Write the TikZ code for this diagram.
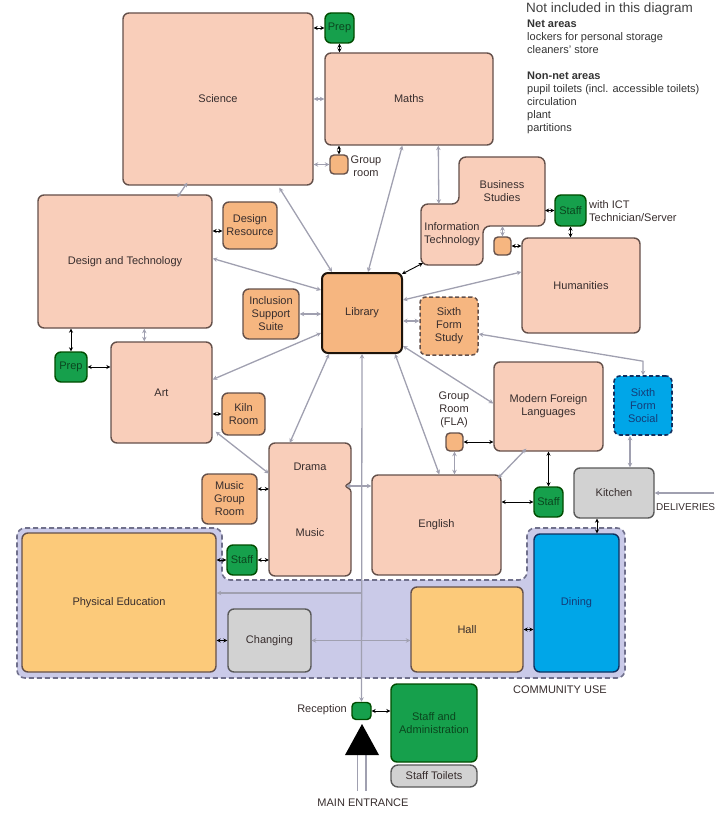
\documentclass[tikz,border=0pt]{standalone}
\usepackage{fontspec}
\setmainfont{Liberation Sans}
\usetikzlibrary{calc,arrows.meta}
\definecolor{salmon}{RGB}{249,206,186}
\definecolor{peach}{RGB}{246,182,128}
\definecolor{sgreen}{RGB}{22,160,76}
\definecolor{yell}{RGB}{252,202,122}
\definecolor{lgray}{RGB}{210,210,210}
\definecolor{sblue}{RGB}{0,166,232}
\definecolor{comm}{RGB}{202,202,232}
\definecolor{commedge}{RGB}{112,112,140}
\definecolor{edge}{RGB}{100,80,74}
\definecolor{txt}{RGB}{55,45,45}
\definecolor{lnk}{RGB}{160,160,176}
\definecolor{dgreen}{RGB}{10,70,30}
\definecolor{dblue}{RGB}{20,60,120}
\tikzset{
  wh/.style 2 args={minimum width=#1pt, minimum height=#2pt},
  room/.style={draw=edge, line width=1.4pt, rounded corners=6pt, inner sep=1pt,
    align=center, text=txt, font=\fontsize{11}{13}\selectfont},
  sal/.style={room, fill=salmon},
  pch/.style={room, fill=peach},
  pchdash/.style={pch, dash pattern=on 4pt off 2.5pt, line width=1.5pt},
  grn/.style={room, fill=sgreen, draw=black!70!green, text=dgreen},
  yel/.style={room, fill=yell},
  gry/.style={room, fill=lgray, draw=black!65},
  blu/.style={room, fill=sblue, draw=dblue!80!black, text=dblue},
  bludash/.style={blu, dash pattern=on 4pt off 2.5pt, line width=1.6pt},
  libstyle/.style={room, fill=peach, draw=black!85!brown, line width=2pt},
  hidden/.style={inner sep=0pt, align=center, text=txt, font=\fontsize{11}{13}\selectfont},
  lbl/.style={inner sep=0pt, align=center, text=txt, font=\fontsize{11}{13}\selectfont},
  leg/.style={inner sep=0pt, anchor=base west, text=black!80, font=\fontsize{11}{13}\selectfont},
  gline/.style={draw=lnk, line width=1.3pt, >={Stealth[length=4.5pt,width=4.5pt]}},
  glink/.style={gline, <->},
  blink/.style={draw=black, line width=0.9pt, <->, >={Stealth[length=4pt,width=4pt]}},
  salshape/.style={draw=edge, fill=salmon, line width=1.4pt}
}
\begin{document}
\begin{tikzpicture}[x=1pt,y=-1pt]
\useasboundingbox (0,0) rectangle (719,818);

% community use area
\draw[draw=commedge, fill=comm, line width=1.6pt, dash pattern=on 5pt off 3pt, rounded corners=8pt]
  (17,528) -- (222,528) -- (222,580) -- (527,580) -- (527,528) -- (625,528) -- (625,678) -- (17,678) -- cycle;
\node[lbl, anchor=base west] (cu) at (513,693) {COMMUNITY USE};

% composite shapes
\draw[salshape, draw=none] (269,443) [rounded corners=6pt] -- (351,443) [sharp corners] -- (351,480) -- (347,486) -- (351,492) [rounded corners=6pt] -- (351,576) -- (269,576) -- cycle;
\draw[draw=edge, line width=1.4pt] (269,443) [rounded corners=6pt] -- (351,443) [sharp corners] -- (351,480) .. controls (351,484) and (346,484) .. (346,486) .. controls (346,488) and (351,488) .. (351,492) [rounded corners=6pt] -- (351,576) -- (269,576) -- cycle;
\draw[salshape, rounded corners=7pt] (421,204) -- (459,204) -- (459,157) -- (545,157) -- (545,226) -- (483,226) -- (483,265) -- (421,265) -- cycle;

% rooms
\node[sal, wh={190}{172}] (sci) at (218,99) {Science};
\node[grn, wh={29}{30}] (prepT) at (339.5,28) {Prep};
\node[sal, wh={168}{92}] (maths) at (409,99) {Maths};
\node[pch, wh={18}{19}, inner sep=0pt, rounded corners=4pt] (grp) at (339,164.5) {};
\node[lbl] (grpL) at (366,166) {Group\\room};
\node[sal, wh={174}{133}] (dt) at (125,261.5) {Design and Technology};
\node[pch, wh={54}{47}] (dres) at (250,225.5) {Design\\Resource};
\node[pch, wh={56}{50}] (iss) at (271,314) {Inclusion\\Support\\Suite};
\node[libstyle, wh={80}{80}] (lib) at (362,313) {Library};
\node[grn, wh={32}{30}] (prepL) at (71,367) {Prep};
\node[sal, wh={101}{101}] (art) at (161.5,392.5) {Art};
\node[pch, wh={43}{42}] (kiln) at (243.5,414) {Kiln\\Room};
\node[hidden, wh={82}{133}] (dm) at (310,509.5) {};
\node[lbl] (drama) at (310,467) {Drama};
\node[lbl] (music) at (310,533) {Music};
\node[pch, wh={55}{50}] (mgr) at (229.5,499) {Music\\Group\\Room};
\node[grn, wh={30}{30}] (staffL) at (242,560) {Staff};
\node[yel, wh={194}{139}] (pe) at (119,602.5) {Physical Education};
\node[gry, wh={83}{63}] (chg) at (269.5,640.5) {Changing};
\node[yel, wh={112}{85}] (hall) at (467,629.5) {Hall};
\node[blu, wh={85}{138}] (din) at (576.5,603) {Dining};
\node[gry, wh={80}{50}] (kit) at (614,493) {Kitchen};
\node[lbl, anchor=base west, font=\fontsize{10}{12}\selectfont] (deliv) at (656,510) {DELIVERIES};
\coordinate (delivS) at (714,493);
\node[grn, wh={29}{30}] (staffR) at (548.5,502) {Staff};
\node[sal, wh={129}{100}] (eng) at (436.5,525) {English};
\node[pch, wh={17}{18}, inner sep=0pt, rounded corners=4pt] (gfla) at (454.5,442) {};
\node[lbl] (gflaL) at (454,410) {Group\\Room\\(FLA)};
\node[sal, wh={109}{89}] (mfl) at (548.5,406.5) {Modern Foreign\\Languages};
\node[bludash, wh={58}{59}] (sfsoc) at (643,405.5) {Sixth\\Form\\Social};
\node[pchdash, wh={58}{58}] (sfst) at (449,326) {Sixth\\Form\\Study};
\node[sal, wh={118}{95}] (hum) at (581,285.5) {Humanities};
\node[grn, wh={31}{31}] (staffI) at (570.5,210.5) {Staff};
\node[lbl, anchor=west, align=left] (ictL) at (589,211) {with ICT\\Technician/Server};
\node[pch, wh={17}{18}, inner sep=0pt, rounded corners=4pt] (sbox) at (502.5,246) {};
\node[hidden, wh={86}{69}] (bs) at (502,191.5) {Business\\Studies};
\node[hidden, wh={62}{61}] (it) at (452,234.5) {Information\\Technology};
\node[grn, wh={19}{17}, inner sep=0pt, rounded corners=4pt] (rec) at (361.5,711) {};
\node[lbl, anchor=east] (recL) at (347,710) {Reception};
\node[grn, wh={86}{78}] (sadm) at (434,723) {Staff and\\Administration};
\node[gry, wh={86}{22}, rounded corners=7pt] (stoil) at (434,776) {Staff Toilets};

% main entrance
\draw[lnk, line width=1.3pt] (357.5,754) -- (357.5,791) (366,754) -- (366,791);
\fill[black] (362,724) -- (379,755) -- (345,755) -- cycle;
\node[lbl] (mainL) at (363,803) {MAIN ENTRANCE};

% legend
\node[leg, font=\fontsize{13.5}{15}\selectfont, text=black!75] (lg0) at (526,13) {Not included in this diagram};
\node[leg, font=\fontsize{11}{13}\bfseries] (lg1) at (527,28) {Net areas};
\node[leg] (lg2) at (527,41) {lockers for personal storage};
\node[leg] (lg3) at (527,54) {cleaners’ store};
\node[leg, font=\fontsize{11}{13}\bfseries] (lg4) at (527,80) {Non-net areas};
\node[leg] (lg5) at (527,93) {pupil toilets (incl. accessible toilets)};
\node[leg] (lg6) at (527,106) {circulation};
\node[leg] (lg7) at (527,119) {plant};
\node[leg] (lg8) at (527,132) {partitions};

% grey adjacency links
\draw[glink] (sci.east) -- (maths.west);
\draw[glink] ($(sci.south west)+(65,-3)$) -- ($(dt.north west)+(140,3)$);
\draw[glink] (sci.east |- grp.west) -- (grp.west);
\draw[glink] ($(sci.south west)+(157,2)$) -- ($(lib.north west)+(11,0)$);
\draw[glink] ($(maths.south west)+(78,0)$) -- ($(lib.north west)+(47,0)$);
\draw[glink] ($(maths.south west)+(114,0)$) -- ($(it.north west)+(18,0)$);
\draw[glink] ($(dt.east)+(0,-3)$) -- ($(lib.west)+(0,-23)$);
\draw[glink] (iss.east) -- (lib.west |- iss.east);
\draw[glink] ($(dt.south west)+(107,0)$) -- ($(art.north west)+(34,0)$);
\draw[glink] ($(art.east)+(0,-13)$) -- ($(lib.west)+(0,20)$);
\draw[glink] ($(art.south east)+(3,-12)$) -- ($(dm.west)+(0,-36)$);
\draw[glink] ($(lib.south west)+(8,0)$) -- ($(dm.north west)+(21,0)$);
\draw[glink] (lib.south) -- (rec.north);
\draw[glink] ($(lib.south east)+(-8,0)$) -- ($(eng.north west)+(68,0)$);
\draw[glink] ($(lib.south east)+(0,-8)$) -- ($(mfl.west)+(0,-3)$);
\draw[glink] ($(lib.east)+(0,8)$) -- ($(sfst.west)+(0,-5)$);
\draw[glink] ($(lib.east)+(0,-13)$) -- ($(hum.west)+(0,-13.5)$);
\draw[glink] ($(sfst.east)+(0,8)$) -- ($(sfsoc.north)+(0,-14)$) -- (sfsoc.north);
\draw[glink] ($(sfsoc.south)+(-13,0)$) -- ($(kit.north)+(16,0)$);
\draw[gline, ->] (delivS) -- (kit.east);
\draw[glink] (gfla.south) -- (gfla.south |- eng.north);
\draw[glink] ($(mfl.south west)+(33,-3)$) -- ($(eng.north east)+(-4,4)$);
\draw[glink] ($(dm.east)+(-5,-23.5)$) -- ($(eng.west |- dm.east)+(0,-23.5)$);
\draw[glink] (sbox.north |- bs.south) -- (sbox.north);
\coordinate (peL) at ($(pe.east)+(0,-9.5)$);
\draw[gline, ->] (lib.south |- peL) -- (peL);
\draw[glink] (chg.east) -- (hall.west |- chg.east);

% black direct links
\draw[blink] (sci.east |- prepT.west) -- (prepT.west);
\draw[blink] (prepT.south) -- (prepT.south |- maths.north);
\draw[blink] (grp.north |- maths.south) -- (grp.north);
\draw[blink] ($(dt.east |- dres.west)+(0,5.5)$) -- ($(dres.west)+(0,5.5)$);
\draw[blink] (prepL.north |- dt.south) -- (prepL.north);
\draw[blink] (prepL.east) -- (art.west |- prepL.east);
\draw[blink] (art.east |- kiln.west) -- (kiln.west);
\draw[blink] ($(mgr.east)+(0,-10)$) -- ($(dm.west |- mgr.east)+(0,-10)$);
\draw[blink] (pe.east |- staffL.west) -- (staffL.west);
\draw[blink] (staffL.east) -- (dm.west |- staffL.east);
\draw[blink] (pe.east |- chg.west) -- (chg.west);
\draw[blink] (hall.east) -- (din.west |- hall.east);
\draw[blink] ($(kit.south)+(-17,0)$) -- ($(kit.south |- din.north)+(-17,0)$);
\draw[blink] (eng.east |- staffR.west) -- (staffR.west);
\draw[blink] (staffR.north |- mfl.south) -- (staffR.north);
\draw[blink] (gfla.east) -- (mfl.west |- gfla.east);
\draw[blink] (bs.east |- staffI.west) -- (staffI.west);
\draw[blink] (staffI.south) -- (staffI.south |- hum.north);
\draw[blink] (sbox.east) -- (hum.west |- sbox.east);
\draw[blink] ($(it.south west)+(2,-2)$) -- ($(lib.north east)+(-1,2)$);
\draw[blink] (rec.east) -- (sadm.west |- rec.east);
\end{tikzpicture}
\end{document}
